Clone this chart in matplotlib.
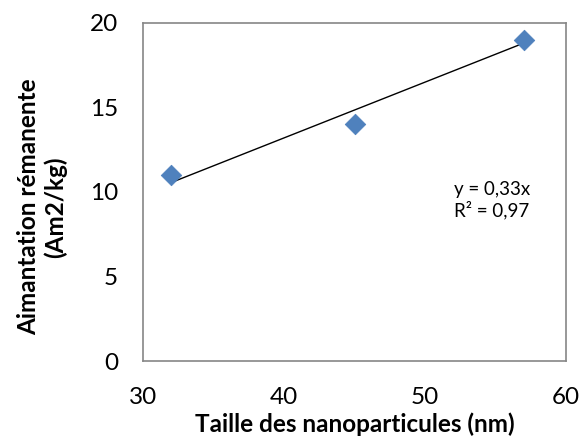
import matplotlib
matplotlib.use("Agg")
import matplotlib.pyplot as plt
import numpy as np

# data
taille = [32, 45, 57]
aimantation = [11, 14, 19]
slope = 0.33
r2 = 0.97

plt.rcParams['font.family'] = ['Lato', 'DejaVu Sans']

fig = plt.figure(figsize=(5.81, 4.47), dpi=100)
ax = fig.add_axes([143 / 581, 1 - 361 / 447, (566 - 143) / 581, (361 - 23) / 447])

# linear trendline through origin
xs = np.array([min(taille), max(taille)])
ax.plot(xs, slope * xs, color='black', linewidth=1.0, zorder=2)
ax.scatter(taille, aimantation, marker='D', s=110, color='#4F81BD',
           edgecolor='#4A7EBB', linewidth=0.5, zorder=3)

ax.set_xlim(30, 60)
ax.set_ylim(0, 20)
ax.set_xticks([30, 40, 50, 60])
ax.set_yticks([0, 5, 10, 15, 20])
ax.tick_params(length=0, labelsize=17.5, colors='black')
ax.tick_params(axis='x', pad=19)
ax.tick_params(axis='y', pad=18)
for s in ax.spines.values():
    s.set_color('#868686')
    s.set_linewidth(1.2)

ax.set_xlabel('Taille des nanoparticules (nm)', fontsize=17.5, fontweight='bold', labelpad=3)
fig.text(42 / 581, 1 - 207 / 447, 'Aimantation rémanente\n(Am2/kg)', rotation=90,
         ha='center', va='center', fontsize=17.5, fontweight='bold', linespacing=1.2)

ax.text(0.735, 0.475, 'y = 0,33x\nR² = 0,97', transform=ax.transAxes,
        fontsize=13.5, ha='left', va='center', linespacing=1.15)

fig.savefig('out.png', dpi=100)
